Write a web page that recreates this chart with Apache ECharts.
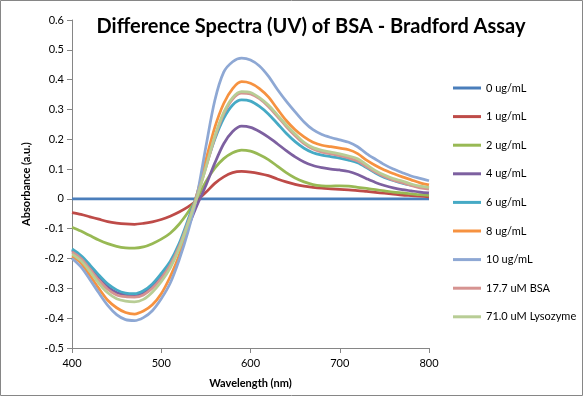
<!DOCTYPE html>
<html>
<head>
<meta charset="utf-8">
<script src="https://cdn.jsdelivr.net/npm/echarts@6/dist/echarts.min.js"></script>
<style>
  html, body { margin: 0; padding: 0; background: #fff; }
  #chart { width: 583px; height: 396px; }
</style>
</head>
<body>
<div id="chart"></div>
<script>
// wavelength (nm), every 10 nm
var wavelengths = [400, 410, 420, 430, 440, 450, 460, 470, 480, 490,
                   500, 510, 520, 530, 540, 550, 560, 570, 580, 590,
                   600, 610, 620, 630, 640, 650, 660, 670, 680, 690,
                   700, 710, 720, 730, 740, 750, 760, 770, 780, 790, 800];

var seriesNames = ['0 ug/mL', '1 ug/mL', '2 ug/mL', '4 ug/mL', '6 ug/mL', '8 ug/mL', '10 ug/mL', '17.7 uM BSA', '71.0 uM Lysozyme'];
var seriesColors = ['#4A7EBB', '#BE4B48', '#98B954', '#7D60A0', '#46AAC5', '#F69240', '#8EA8D4', '#D69391', '#B8CD95'];

var abs0 = [0, 0, 0, 0, 0, 0, 0, 0, 0, 0,
            0, 0, 0, 0, 0, 0, 0, 0, 0, 0,
            0, 0, 0, 0, 0, 0, 0, 0, 0, 0,
            0, 0, 0, 0, 0, 0, 0, 0, 0, 0, 0];
var abs1 = [-0.046, -0.052, -0.060, -0.068, -0.076, -0.081, -0.084, -0.085, -0.082, -0.077,
            -0.069, -0.058, -0.044, -0.027, -0.005, 0.022, 0.052, 0.074, 0.088, 0.092,
            0.090, 0.085, 0.078, 0.067, 0.057, 0.049, 0.043, 0.039, 0.036, 0.034,
            0.032, 0.030, 0.028, 0.025, 0.022, 0.019, 0.016, 0.013, 0.011, 0.009, 0.007];
var abs2 = [-0.095, -0.108, -0.123, -0.138, -0.150, -0.159, -0.164, -0.165, -0.161, -0.150,
            -0.135, -0.115, -0.085, -0.045, 0.002, 0.058, 0.103, 0.135, 0.155, 0.164,
            0.160, 0.148, 0.132, 0.110, 0.088, 0.070, 0.057, 0.048, 0.044, 0.043,
            0.044, 0.043, 0.039, 0.035, 0.031, 0.027, 0.023, 0.020, 0.017, 0.014, 0.012];
var abs4 = [-0.172, -0.195, -0.228, -0.263, -0.295, -0.314, -0.322, -0.323, -0.315, -0.293,
            -0.262, -0.222, -0.165, -0.095, -0.022, 0.045, 0.120, 0.185, 0.226, 0.244,
            0.240, 0.226, 0.207, 0.185, 0.162, 0.141, 0.124, 0.112, 0.105, 0.100,
            0.097, 0.092, 0.082, 0.068, 0.055, 0.045, 0.037, 0.031, 0.027, 0.023, 0.020];
var abs6 = [-0.168, -0.190, -0.221, -0.255, -0.285, -0.305, -0.316, -0.318, -0.308, -0.285,
            -0.250, -0.210, -0.150, -0.070, 0.015, 0.110, 0.200, 0.270, 0.315, 0.332,
            0.328, 0.310, 0.285, 0.253, 0.220, 0.192, 0.170, 0.155, 0.147, 0.142,
            0.137, 0.130, 0.121, 0.105, 0.087, 0.072, 0.062, 0.053, 0.046, 0.040, 0.036];
var abs8 = [-0.192, -0.215, -0.256, -0.300, -0.340, -0.365, -0.381, -0.386, -0.376, -0.355,
            -0.318, -0.261, -0.190, -0.090, 0.015, 0.130, 0.240, 0.320, 0.370, 0.393,
            0.388, 0.370, 0.342, 0.302, 0.263, 0.232, 0.208, 0.190, 0.180, 0.175,
            0.170, 0.165, 0.152, 0.130, 0.112, 0.097, 0.085, 0.074, 0.064, 0.054, 0.047];
var abs10 = [-0.200, -0.228, -0.270, -0.315, -0.357, -0.388, -0.405, -0.408, -0.398, -0.375,
             -0.335, -0.283, -0.205, -0.110, 0.010, 0.175, 0.330, 0.425, 0.460, 0.472,
             0.466, 0.446, 0.412, 0.368, 0.328, 0.292, 0.258, 0.232, 0.216, 0.206,
             0.198, 0.190, 0.175, 0.152, 0.133, 0.115, 0.100, 0.088, 0.077, 0.069, 0.061];
var absBSA = [-0.178, -0.200, -0.235, -0.272, -0.303, -0.322, -0.328, -0.329, -0.322, -0.300,
              -0.266, -0.222, -0.160, -0.078, 0.008, 0.105, 0.205, 0.285, 0.335, 0.355,
              0.352, 0.336, 0.310, 0.277, 0.243, 0.212, 0.185, 0.167, 0.157, 0.151,
              0.145, 0.137, 0.127, 0.108, 0.090, 0.075, 0.063, 0.054, 0.045, 0.037, 0.033];
var absLys = [-0.185, -0.207, -0.243, -0.283, -0.315, -0.335, -0.343, -0.345, -0.337, -0.313,
              -0.278, -0.232, -0.168, -0.083, 0.005, 0.105, 0.210, 0.290, 0.340, 0.360,
              0.357, 0.340, 0.315, 0.282, 0.248, 0.218, 0.190, 0.172, 0.163, 0.157,
              0.151, 0.144, 0.135, 0.115, 0.095, 0.080, 0.068, 0.060, 0.050, 0.043, 0.039];

var allAbs = [abs0, abs1, abs2, abs4, abs6, abs8, abs10, absBSA, absLys];

function pairs(ys) {
  return wavelengths.map(function (x, i) { return [x, ys[i]]; });
}

var chart = echarts.init(document.getElementById('chart'));

var series = allAbs.map(function (ys, i) {
  return {
    name: seriesNames[i],
    type: 'line',
    smooth: 0.3,
    showSymbol: false,
    lineStyle: { width: 2.75, color: seriesColors[i] },
    itemStyle: { color: seriesColors[i] },
    data: pairs(ys)
  };
});

var font = 'Lato, "Open Sans", sans-serif';

var option = {
  backgroundColor: '#fff',
  animation: false,
  title: {
    text: 'Difference Spectra (UV) of BSA - Bradford Assay',
    left: 306,
    top: 12,
    textAlign: 'center',
    textStyle: { fontFamily: font, fontSize: 20, fontWeight: 'bold', color: '#000' }
  },
  legend: {
    orient: 'vertical',
    left: 448,
    top: 76,
    itemWidth: 28,
    itemHeight: 3,
    itemGap: 14.6,
    icon: 'rect',
    textStyle: { fontFamily: font, fontSize: 11, color: '#000', lineHeight: 14 },
    data: seriesNames
  },
  grid: { left: 72, right: 154, top: 20, bottom: 48 },
  xAxis: {
    type: 'value',
    min: 400,
    max: 800,
    interval: 100,
    name: 'Wavelength (nm)',
    nameLocation: 'middle',
    nameGap: 30,
    nameTextStyle: { fontFamily: font, fontSize: 11, fontWeight: 'bold', color: '#000' },
    axisLine: { onZero: false, lineStyle: { color: '#868686', width: 1 } },
    axisTick: { show: true, length: 5, lineStyle: { color: '#868686' } },
    axisLabel: { fontFamily: font, fontSize: 11, color: '#000', margin: 10 },
    splitLine: { show: false }
  },
  yAxis: {
    type: 'value',
    min: -0.5,
    max: 0.6,
    interval: 0.1,
    name: 'Absorbance (a.u.)',
    nameLocation: 'middle',
    nameGap: 40,
    nameTextStyle: { fontFamily: font, fontSize: 11, fontWeight: 'bold', color: '#000' },
    axisLine: { show: true, lineStyle: { color: '#868686', width: 1 } },
    axisTick: { show: true, length: 5, lineStyle: { color: '#868686' } },
    axisLabel: {
      fontFamily: font, fontSize: 11, color: '#000', margin: 8,
      formatter: function (v) { return String(+v.toFixed(1)); }
    },
    splitLine: { show: false }
  },
  graphic: [{
    type: 'rect',
    shape: { x: 0.5, y: 0.5, width: 582, height: 395 },
    style: { fill: 'none', stroke: '#868686', lineWidth: 1 },
    silent: true
  }],
  series: series
};

chart.setOption(option);
</script>
</body>
</html>
